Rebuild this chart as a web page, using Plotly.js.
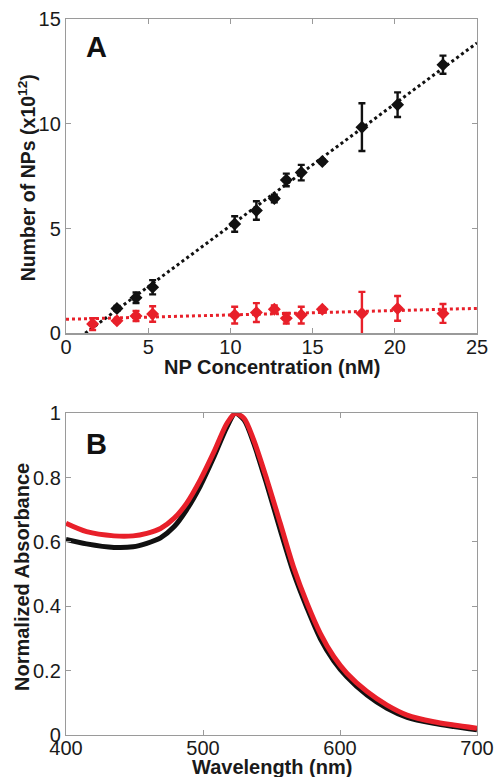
<!DOCTYPE html>
<html><head><meta charset="utf-8">
<script src="https://cdn.plot.ly/plotly-3.0.1.min.js"></script>
<style>body{margin:0;padding:0;background:#fff}#chart{width:495px;height:777px}</style>
</head><body><div id="chart"></div>
<script>
// Panel A data
const concX = [3.1, 4.26, 5.27, 10.26, 11.58, 12.67, 13.4, 14.31, 15.59, 18.0, 20.17, 22.93];
const blackY = [1.19, 1.70, 2.20, 5.22, 5.86, 6.43, 7.32, 7.67, 8.20, 9.84, 10.91, 12.82];
const blackErr = [0.12, 0.25, 0.34, 0.37, 0.44, 0.18, 0.30, 0.37, 0.10, 1.14, 0.59, 0.43];
const redX = [1.62, 3.1, 4.26, 5.27, 10.26, 11.58, 12.67, 13.4, 14.31, 15.59, 18.0, 20.17, 22.93];
const redY = [0.44, 0.60, 0.83, 0.92, 0.87, 0.99, 1.15, 0.72, 0.87, 1.15, 0.95, 1.19, 0.95];
const redErr = [0.28, 0.10, 0.24, 0.37, 0.40, 0.45, 0.18, 0.25, 0.40, 0.10, 1.03, 0.59, 0.45];
const blackFitX = [1.17, 25];
const blackFitY = [0, 13.86];
const redFitX = [0, 25];
const redFitY = [0.67, 1.19];
const xTicksA = [0, 5, 10, 15, 20, 25];
const yTicksA = [0, 5, 10, 15];

// Panel B data
const wavelength = [400, 415, 435, 449, 459, 469, 479, 488, 498, 508, 517.5, 523.6, 530, 537, 546.7, 556.4, 566, 576, 585.6, 595.4, 605, 619.7, 634.3, 649, 668.4, 683, 700];
const absRed = [0.658, 0.632, 0.619, 0.619, 0.627, 0.642, 0.674, 0.72, 0.793, 0.88, 0.969, 1.0, 0.984, 0.917, 0.793, 0.658, 0.523, 0.409, 0.316, 0.244, 0.192, 0.135, 0.093, 0.062, 0.041, 0.031, 0.021];
const absBlack = [0.608, 0.594, 0.583, 0.585, 0.596, 0.613, 0.648, 0.70, 0.774, 0.865, 0.958, 1.0, 0.979, 0.907, 0.777, 0.637, 0.505, 0.394, 0.30, 0.231, 0.181, 0.124, 0.083, 0.055, 0.036, 0.026, 0.016];
const xTicksB = [400, 500, 600, 700];
const yTicksB = [0, 0.2, 0.4, 0.6, 0.8, 1];
const yTickTextB = ['0', '0.2', '0.4', '0.6', '0.8', '1'];

const BLACK = '#111111';
const RED = '#e8202a';
const FONT = 'Liberation Sans, Arial, sans-serif';

const traces = [
  {x: blackFitX, y: blackFitY, mode: 'lines', line: {color: BLACK, width: 3, dash: 'dot'}, xaxis: 'x', yaxis: 'y', hoverinfo: 'skip'},
  {x: redFitX, y: redFitY, mode: 'lines', line: {color: RED, width: 3, dash: 'dot'}, xaxis: 'x', yaxis: 'y', hoverinfo: 'skip'},
  {x: concX, y: blackY, mode: 'markers', marker: {symbol: 'diamond', size: 10, color: BLACK},
   error_y: {type: 'data', array: blackErr, visible: true, color: BLACK, thickness: 2.4, width: 3.5}, xaxis: 'x', yaxis: 'y'},
  {x: redX, y: redY, mode: 'markers', marker: {symbol: 'diamond', size: 10, color: RED},
   error_y: {type: 'data', array: redErr, visible: true, color: RED, thickness: 2.4, width: 3.5}, xaxis: 'x', yaxis: 'y'},
  {x: wavelength, y: absBlack, mode: 'lines', line: {color: BLACK, width: 5, shape: 'spline', smoothing: 0.8}, xaxis: 'x2', yaxis: 'y2'},
  {x: wavelength, y: absRed, mode: 'lines', line: {color: RED, width: 5, shape: 'spline', smoothing: 0.8}, xaxis: 'x2', yaxis: 'y2'}
];

const axisCommon = {
  showgrid: false, zeroline: false, showline: true, mirror: 'ticks', linecolor: '#9a9a9a', linewidth: 1.2,
  ticks: 'inside', ticklen: 5, tickcolor: '#9a9a9a', tickwidth: 1,
  tickfont: {family: FONT, size: 20, color: '#1a1a1a'}
};
const TF = {family: FONT, color: '#1a1a1a', weight: 'bold'};

const layout = {
  width: 495, height: 777,
  margin: {l: 66, r: 18, t: 19, b: 42},
  paper_bgcolor: '#fff', plot_bgcolor: '#fff',
  showlegend: false,
  font: {family: FONT},
  xaxis: Object.assign({}, axisCommon, {domain: [0, 1], anchor: 'y', range: [0, 25], tickvals: xTicksA, ticklabelstandoff: -5}),
  yaxis: Object.assign({}, axisCommon, {domain: [0.561, 1], anchor: 'x', range: [0, 15], tickvals: yTicksA}),
  xaxis2: Object.assign({}, axisCommon, {domain: [0, 1], anchor: 'y2', range: [400, 700], tickvals: xTicksB, ticklabelstandoff: -5}),
  yaxis2: Object.assign({}, axisCommon, {domain: [0, 0.4493], anchor: 'x2', range: [0, 1], tickvals: yTicksB, ticktext: yTickTextB}),
  annotations: [
    {text: '<b>A</b>', xref: 'x', yref: 'y', x: 1.1, y: 13.65, xanchor: 'left', yanchor: 'middle', showarrow: false, font: {family: FONT, size: 29, color: '#111'}},
    {text: '<b>B</b>', xref: 'x2', yref: 'y2', x: 413, y: 0.905, xanchor: 'left', yanchor: 'middle', showarrow: false, font: {family: FONT, size: 29, color: '#111'}},
    {text: '<b>NP Concentration (nM)</b>', xref: 'paper', yref: 'paper', x: 0.5, y: 0.5140, xanchor: 'center', yanchor: 'middle', showarrow: false, borderpad: 0, font: Object.assign({size: 20}, TF)},
    {text: '<b>Wavelength (nm)</b>', xref: 'paper', yref: 'paper', x: 0.5, y: -0.0440, xanchor: 'center', yanchor: 'middle', showarrow: false, borderpad: 0, font: Object.assign({size: 20}, TF)},
    {text: '<b>Number of NPs (x10<sup>12</sup>)</b>', xref: 'paper', yref: 'paper', x: -0.0949, y: 0.779, xanchor: 'center', yanchor: 'middle', textangle: -90, showarrow: false, font: Object.assign({size: 19.5}, TF)},
    {text: '<b>Normalized Absorbance</b>', xref: 'paper', yref: 'paper', x: -0.107, y: 0.2207, xanchor: 'center', yanchor: 'middle', textangle: -90, showarrow: false, font: Object.assign({size: 20}, TF)}
  ]
};

Plotly.newPlot('chart', traces, layout, {staticPlot: true, displayModeBar: false});
</script></body></html>
